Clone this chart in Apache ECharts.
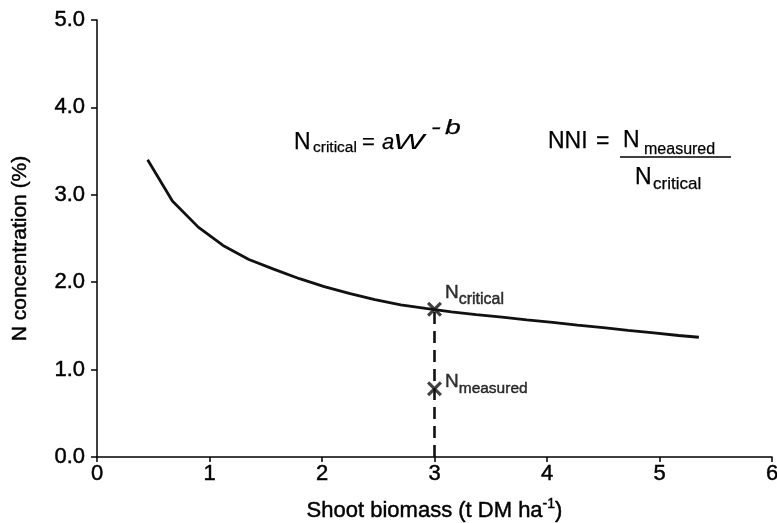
<!DOCTYPE html>
<html>
<head>
<meta charset="utf-8">
<script src="https://cdn.jsdelivr.net/npm/echarts@6/dist/echarts.min.js"></script>
<style>
  html, body { margin: 0; padding: 0; background: #fff; }
  #chart { width: 777px; height: 523px; }
</style>
</head>
<body>
<div id="chart"></div>
<script>
// Critical N dilution curve: shoot biomass (t DM/ha) vs critical N concentration (%)
const biomass = [0.45, 0.67, 0.90, 1.12, 1.35, 1.57, 1.80, 2.02, 2.25, 2.47, 2.70, 2.92,
                 3.15, 3.37, 3.60, 3.82, 4.05, 4.27, 4.50, 4.72, 4.95, 5.17, 5.35];
const nCritical = [3.40, 2.93, 2.63, 2.42, 2.26, 2.15, 2.04, 1.95, 1.87, 1.80, 1.74, 1.70,
                   1.66, 1.63, 1.60, 1.57, 1.54, 1.51, 1.48, 1.45, 1.42, 1.39, 1.37];

// Example crop sampled at one biomass value
const sampleBiomass = 3;
const sampleCritical = 1.69;
const sampleMeasured = 0.78;

const xTicks = [0, 1, 2, 3, 4, 5, 6];
const yTicks = [0, 1, 2, 3, 4, 5];

const FONT = "'Liberation Sans', Arial, sans-serif";
const INK = '#000';
const HEAVY = { textBorderColor: INK, textBorderWidth: 0.45 };
const crossSymbol = 'path://M0,1.5L1.5,0L5,3.5L8.5,0L10,1.5L6.5,5L10,8.5L8.5,10L5,6.5L1.5,10L0,8.5L3.5,5Z';

const chart = echarts.init(document.getElementById('chart'), null, { renderer: 'canvas' });

// place text by its alphabetic baseline
function txt(x, baseline, str, size, extra, scaleX) {
  const el = {
    type: 'text',
    x: x,
    y: baseline - 0.31 * size,
    style: Object.assign({
      text: str, fontFamily: FONT, fontSize: size, fill: INK,
      stroke: INK, lineWidth: 0.25,
      align: 'left', verticalAlign: 'middle'
    }, extra || {})
  };
  if (scaleX) el.scaleX = scaleX;
  return el;
}

const curveData = biomass.map((w, i) => [w, nCritical[i]]);

chart.setOption({
  animation: false,
  backgroundColor: '#fff',
  grid: { left: 97, right: 5, top: 20, bottom: 66, outerBoundsMode: 'none', containLabel: false },
  xAxis: {
    type: 'value', min: xTicks[0], max: xTicks[xTicks.length - 1], interval: 1,
    axisLine: { lineStyle: { color: INK, width: 1.5 } },
    axisTick: { show: true, length: 5, lineStyle: { color: INK, width: 1.5 } },
    splitLine: { show: false },
    axisLabel: Object.assign({ color: INK, fontFamily: FONT, fontSize: 22, margin: 6 }, HEAVY),
    name: '{a|Shoot biomass (t DM ha}{s|-1}{a|)}',
    nameLocation: 'middle', nameGap: 40,
    nameTextStyle: {
      rich: {
        a: Object.assign({ fontFamily: FONT, fontSize: 22, color: INK }, HEAVY),
        s: Object.assign({ fontFamily: FONT, fontSize: 14, color: INK, padding: [0, 0, 14, 0] }, HEAVY)
      }
    }
  },
  yAxis: {
    type: 'value', min: yTicks[0], max: yTicks[yTicks.length - 1], interval: 1,
    axisLine: { show: true, lineStyle: { color: INK, width: 1.5 } },
    axisTick: { show: true, length: 6, lineStyle: { color: INK, width: 1.5 } },
    splitLine: { show: false },
    axisLabel: Object.assign({ color: INK, fontFamily: FONT, fontSize: 22, margin: 12,
                 formatter: v => v.toFixed(1) }, HEAVY),
    name: 'N concentration (%)',
    nameLocation: 'middle', nameGap: 66,
    nameTextStyle: Object.assign({ color: INK, fontFamily: FONT, fontSize: 21, padding: [0, 20, 0, 0] }, HEAVY)
  },
  series: [
    {
      type: 'line', data: curveData, symbol: 'none', smooth: false,
      lineStyle: { color: '#111', width: 2.8 }, z: 3
    },
    {
      type: 'line',
      data: [[sampleBiomass, 0], [sampleBiomass, sampleCritical]],
      symbol: 'none',
      lineStyle: { color: '#111', width: 2.6, type: [12, 7] }, z: 2
    },
    {
      type: 'scatter',
      data: [
        { value: [sampleBiomass, sampleCritical],
          label: { formatter: '{n|N}{c|critical}', offset: [0, -17],
                   rich: { n: Object.assign({ fontFamily: FONT, fontSize: 19, color: INK }, HEAVY),
                           c: Object.assign({ fontFamily: FONT, fontSize: 16, color: INK, padding: [15, 0, 0, 0] }, HEAVY) } } },
        { value: [sampleBiomass, sampleMeasured],
          label: { formatter: '{n|N}{c|measured}', offset: [0, -7],
                   rich: { n: Object.assign({ fontFamily: FONT, fontSize: 19, color: INK }, HEAVY),
                           c: Object.assign({ fontFamily: FONT, fontSize: 15.5, color: INK, padding: [13, 0, 0, 0] }, HEAVY) } } }
      ],
      symbol: crossSymbol, symbolSize: 15,
      itemStyle: { color: '#111' },
      label: { show: true, position: 'right', distance: 3, color: INK },
      z: 4
    }
  ],
  graphic: [
    // N_critical = aW^-b
    txt(294, 150, 'N', 23),
    txt(313, 153, 'critical', 15.5),
    txt(362, 150, '=', 22),
    txt(382, 150, 'a', 22, { fontStyle: 'italic' }),
    txt(393, 150, 'W', 22, { fontStyle: 'italic', lineWidth: 0 }, 1.5),
    txt(431, 135, '-', 21, { fontStyle: 'italic' }, 1.4),
    txt(445, 135, 'b', 21, { fontStyle: 'italic' }, 1.35),
    // NNI = N_measured / N_critical
    txt(548, 149, 'NNI', 23),
    txt(596, 149, '=', 23),
    txt(623, 148, 'N', 23),
    txt(644, 155, 'measured', 16),
    { type: 'line', shape: { x1: 620, y1: 157, x2: 731, y2: 157 },
      style: { stroke: INK, lineWidth: 1.6 } },
    txt(635, 185, 'N', 23),
    txt(653, 190, 'critical', 17)
  ]
});
</script>
</body>
</html>
